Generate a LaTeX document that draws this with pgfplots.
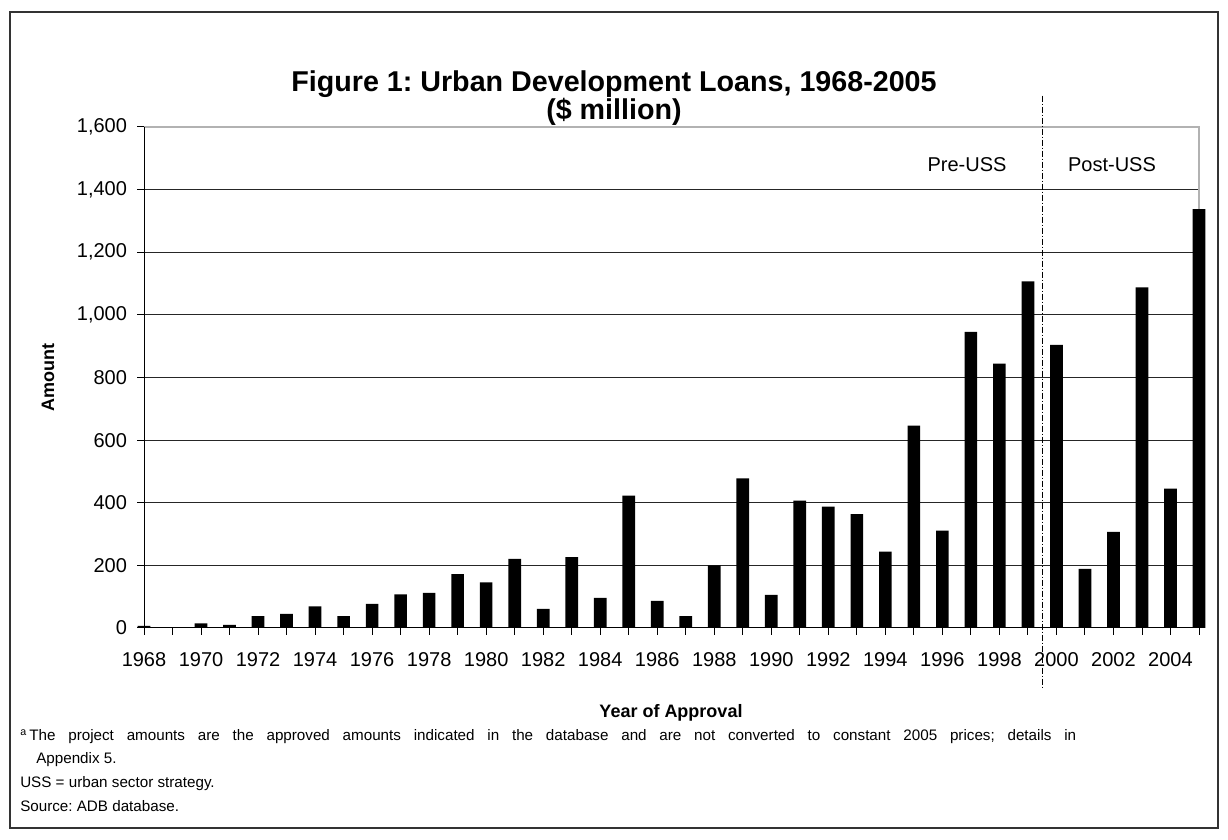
\documentclass[border=0pt]{standalone}
\usepackage{fontspec}
\setmainfont{Liberation Sans}
\usepackage{pgfplots}
\pgfplotsset{compat=1.18}
\begin{document}
\frenchspacing
\begin{tikzpicture}[x=0.75pt,y=0.75pt]
\useasboundingbox (0,0) rectangle (1228,839);
\draw[line width=0.9pt, black!80] (10,11) rectangle (1218,827);
\begin{axis}[
  at={(108pt,158.25pt)}, anchor=south west,
  width=791.25pt, height=375.75pt, scale only axis,
  xmin=1968, xmax=2005, ymin=0, ymax=1600,
  ytick={0,200,...,1600},
  xtick={1968,1970,...,2004},
  minor xtick={1969,1971,...,2005},
  tick align=outside, tick pos=left,
  major tick length=5.25pt, minor tick length=5.25pt,
  tick style={black, line width=0.75pt},
  ymajorgrids, grid style={black!85, line width=0.75pt},
  axis line style={draw=none},
  ybar, bar width=9.5pt,
  clip=false,
  /pgf/number format/assume math mode=true,
  ticklabel style={font=\fontsize{15}{18}\selectfont},
  xticklabel style={/pgf/number format/1000 sep={}, yshift=-9.5pt},
  yticklabel style={/pgf/number format/1000 sep={,}, xshift=-4pt},
]
\draw[gray!60, line width=1pt] (rel axis cs:0,1) -- (rel axis cs:1,1) -- (rel axis cs:1,0);
\addplot[fill=black, draw=none] coordinates {(1968,7) (1969,0) (1970,15) (1971,10) (1972,38) (1973,45) (1974,69) (1975,38) (1976,77) (1977,107) (1978,112) (1979,172) (1980,146) (1981,221) (1982,61) (1983,226) (1984,96) (1985,423) (1986,87) (1987,38) (1988,200) (1989,478) (1990,106) (1991,407) (1992,388) (1993,364) (1994,244) (1995,646) (1996,311) (1997,946) (1998,844) (1999,1107) (2000,904) (2001,189) (2002,307) (2003,1088) (2004,445) (2005,1338)};
\draw[black, line width=0.75pt] (rel axis cs:0,1) -- (rel axis cs:0,0) -- (rel axis cs:1,0);
\coordinate (ltop) at (axis cs:1999.5,1700);
\coordinate (lbot) at (axis cs:1999.5,-192);
\end{axis}
\draw[line width=0.75pt, dash pattern=on 4.5pt off 1.5pt on 0.75pt off 1.5pt] (ltop) -- (lbot);
\node[font=\fontsize{15}{18}\selectfont] at (967,674) {Pre-USS};
\node[font=\fontsize{15}{18}\selectfont] at (1112,674) {Post-USS};
\node[font=\bfseries\fontsize{21.5}{25}\selectfont] at (614,755) {Figure 1: Urban Development Loans, 1968-2005};
\node[font=\bfseries\fontsize{21.5}{25}\selectfont] at (614,727) {(\$ million)};
\node[rotate=90, font=\bfseries\fontsize{13.5}{16}\selectfont] at (48,461) {Amount};
\node[font=\bfseries\fontsize{13.5}{16}\selectfont] at (671,126) {Year of Approval};
\begin{scope}[every node/.style={anchor=base west, inner sep=0pt, font=\fontsize{11.4}{13}\selectfont}]
\node at (20,98) {\makebox[792pt][s]{\textsuperscript{a}\,The project amounts are the approved amounts indicated in the database and are not converted to constant 2005 prices; details in}};
\node at (36,75) {Appendix 5.};
\node at (20,51) {USS = urban sector strategy.};
\node at (20,27) {Source: ADB database.};
\end{scope}
\end{tikzpicture}
\end{document}
